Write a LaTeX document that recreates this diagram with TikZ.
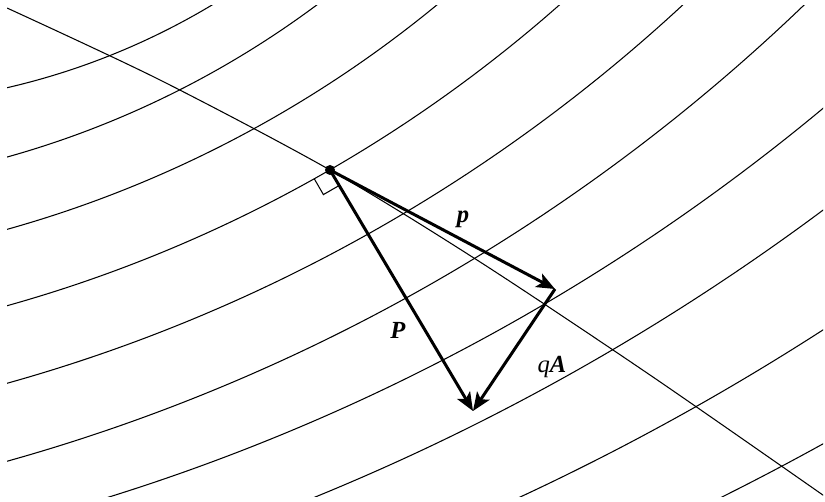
\documentclass[tikz,border=0pt]{standalone}
\usepackage{fontspec}
\setmainfont{Liberation Serif}
\usetikzlibrary{arrows.meta}
\begin{document}
\begin{tikzpicture}[x=0.02cm,y=-0.02cm,
  contour/.style={line width=0.6pt},
  vec/.style={line width=1.7pt,-{Stealth[length=10.5pt,width=8.5pt,inset=2.5pt]}},
  lbl/.style={font=\fontsize{14}{16}\selectfont\bfseries\itshape}]
\useasboundingbox (0,0) rectangle (825,502);
% level curves and the path
\begin{scope}
\clip (7,6) rectangle (823,497);
\foreach \cx/\cy/\r in {-154/-607/713,-249/-757/949,-312/-907/1180,-375/-1055/1413,
  -438/-1206/1650,-503/-1356/1887,-517/-1506/2098,-564/-1656/2325,-550/-1805/2538,-500/-1955/2739}
  \draw[contour] (\cx,\cy) circle[radius=\r];
\draw[contour] plot[smooth] coordinates {(7,8) (160,80) (330,170) (477,260) (650,375) (830,500)};
\end{scope}
\coordinate (O) at (330,170);
\coordinate (ptip) at (555,289);
\coordinate (Ptip) at (473,411);
% right angle mark
\draw[contour] (O) ++(-15.6,9) -- ++(9,15.6) -- ++(15.6,-9);
% vectors
\draw[vec] (O) -- (ptip);
\draw[vec] (O) -- (Ptip);
\draw[vec] (ptip) -- (Ptip);
\node[circle,fill,inner sep=0pt,minimum size=0.2cm] (dot) at (O) {};
\node[lbl] (plbl) at (463,219) {p};
\node[lbl] (Plbl) at (398,330) {P};
\node[font=\fontsize{14}{16}\selectfont] (qAlbl) at (552,367) {\textit{q}\textbf{\textit{A}}};
\end{tikzpicture}
\end{document}
